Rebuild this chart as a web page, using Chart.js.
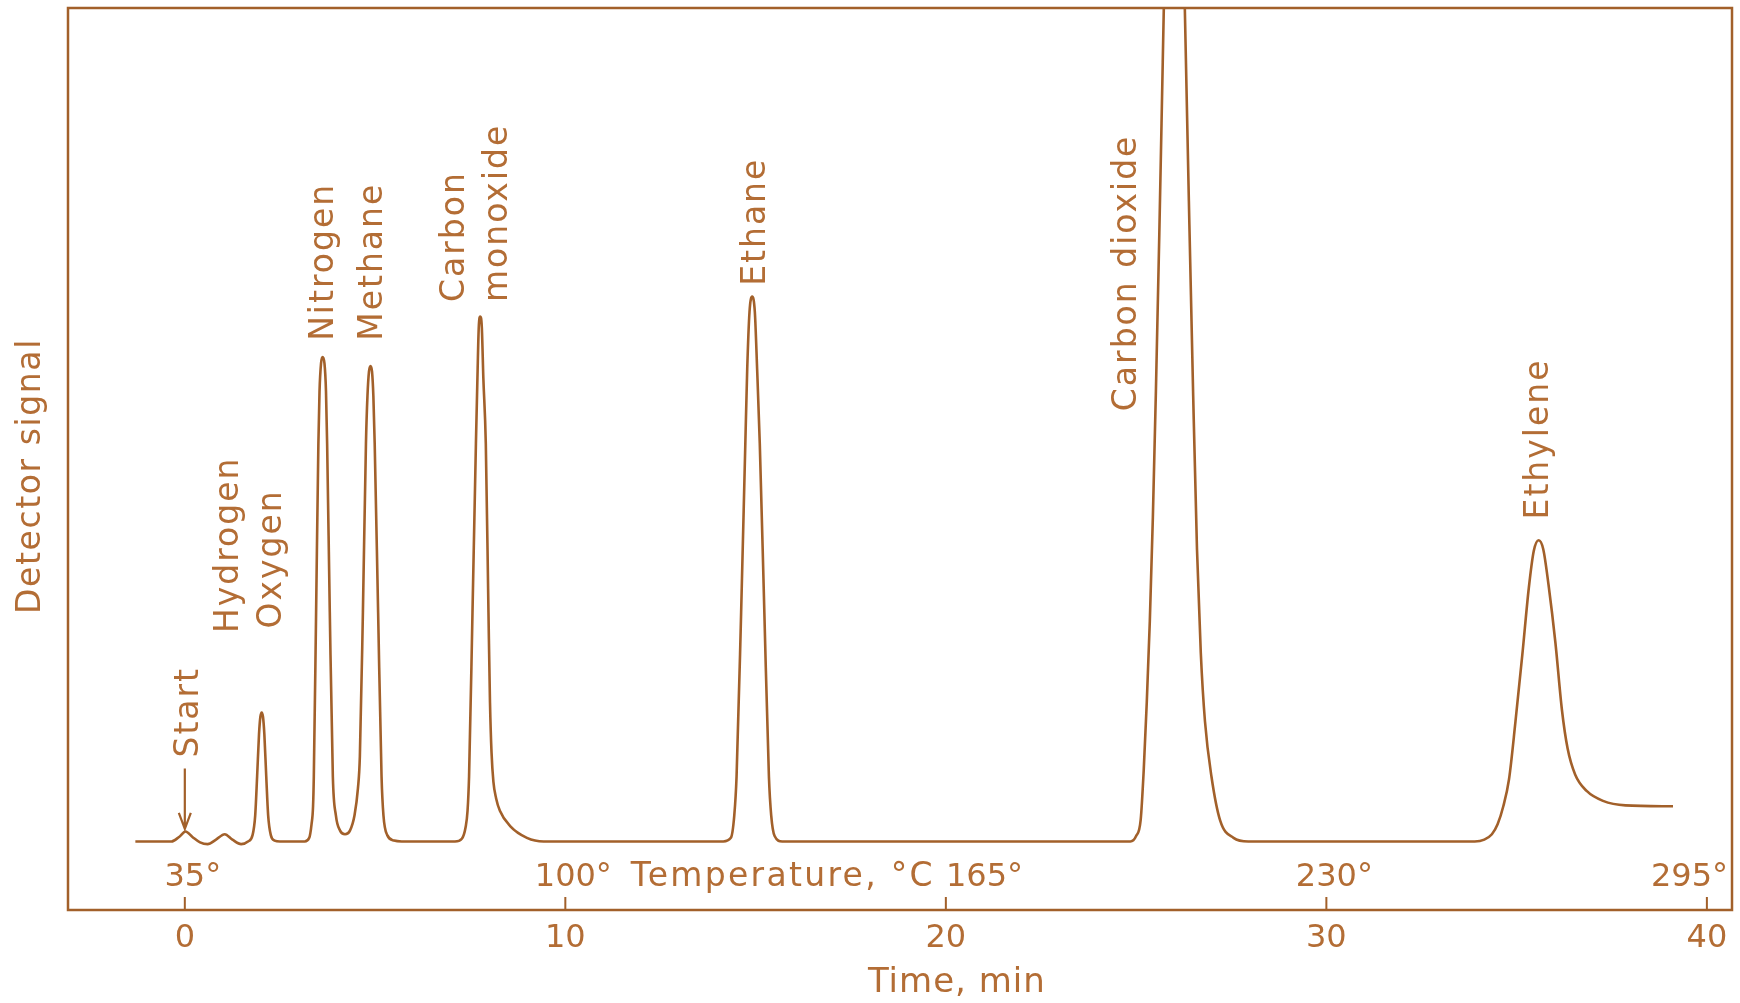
<!DOCTYPE html>
<html>
<head>
<meta charset="utf-8">
<title>Gas chromatogram</title>
<script src="https://cdn.jsdelivr.net/npm/chart.js@4.4.1/dist/chart.umd.min.js"></script>
<style>
  html, body { margin: 0; padding: 0; background: #fff; }
  canvas { display: block; }
</style>
</head>
<body>
<canvas id="chromatogram" width="1740" height="1003"></canvas>
<script>
// recorder trace (time in min, signal in % of frame height)
const timeMin = [
  -1.30, -0.70, -0.35, -0.15, 0.02, 0.20, 0.40, 0.60, 0.82, 1.05, 1.25, 1.48, 1.66,
  1.78, 1.85, 1.90, 1.95, 1.985, 2.02, 2.055, 2.09, 2.14, 2.19, 2.26, 2.36, 2.50, 3.15,
  3.27, 3.33, 3.37, 3.39, 3.45, 3.51, 3.54, 3.58, 3.62, 3.67, 3.71, 3.74, 3.81, 3.89, 3.97, 4.08,
  4.21, 4.34, 4.46, 4.55, 4.60, 4.68, 4.76, 4.80, 4.84, 4.88, 4.92, 4.955, 4.99, 5.08, 5.17, 5.22, 5.32, 5.50, 5.70, 7.10, 7.28, 7.38,
  7.43, 7.47, 7.56, 7.65, 7.69, 7.725, 7.765, 7.805, 7.845, 7.91, 7.98, 8.02, 8.06, 8.11, 8.18, 8.28, 8.55, 8.99, 9.43,
  14.15, 14.35, 14.44, 14.50, 14.62, 14.73, 14.78, 14.84, 14.91, 14.98, 15.04, 15.11, 15.23, 15.35, 15.41, 15.50, 15.70, 24.85,
  25.00, 25.12, 25.20, 25.28, 25.36, 25.44, 25.52, 25.61, 25.70, 25.80, 26.00, 26.20, 26.28, 26.40, 26.50, 26.60, 26.70, 26.81, 26.98, 27.21, 27.56, 27.95,
  33.90, 34.15, 34.35, 34.50, 34.65, 34.80, 34.97, 35.15, 35.32, 35.45, 35.58, 35.70, 35.84, 36.02, 36.19, 36.34, 36.54, 36.84, 37.27, 37.86, 39.11
];
const signal = [
  7.6, 7.6, 7.6, 8.1, 8.7, 8.1, 7.5, 7.3, 7.8, 8.4, 7.8, 7.3, 7.6,
  8.3, 10.5, 14.8, 19.5, 21.4, 21.9, 21.4, 19.5, 14.8, 10.5, 8.3, 7.7, 7.6, 7.6,
  8.0, 9.5, 11.5, 14.8, 33.0, 51.7, 57.5, 60.6, 61.3, 60.6, 57.5, 51.7, 33.0, 14.8, 10.5, 8.8,
  8.4, 8.8, 10.5, 13.5, 17.0, 33.0, 51.7, 57.0, 59.7, 60.3, 59.7, 57.0, 51.7, 33.0, 14.8, 10.5, 8.3, 7.7, 7.6, 7.6, 7.9, 9.2,
  11.0, 14.8, 33.0, 51.7, 59.0, 64.6, 65.8, 64.6, 59.0, 51.7, 33.0, 23.0, 17.5, 14.2, 12.4, 11.0, 9.3, 8.0, 7.6,
  7.6, 8.0, 10.5, 14.8, 33.0, 51.7, 60.0, 66.3, 68.0, 66.3, 60.0, 51.7, 33.0, 14.8, 10.5, 8.2, 7.6, 7.6,
  8.2, 10.0, 15.5, 23.0, 32.0, 43.5, 57.5, 75.0, 94.0, 115.0, 150.0, 118.0, 100.0, 76.0, 57.0, 40.0, 28.5, 20.9, 14.8, 9.9, 8.0, 7.6,
  7.6, 7.8, 8.4, 9.5, 11.5, 14.5, 20.9, 28.3, 35.7, 39.8, 41.0, 40.0, 36.0, 29.6, 22.2, 17.9, 15.0, 13.2, 12.1, 11.6, 11.5
];

const timeTicks = [0, 10, 20, 30, 40];
const tempLabels = ['35°', '100°', '165°', '230°', '295°'];

// peak names, written upward from the given (time, signal) point
const peakNames = ['Start', 'Hydrogen', 'Oxygen', 'Nitrogen', 'Methane', 'Carbon', 'monoxide', 'Ethane', 'Carbon dioxide', 'Ethylene'];
const peakTimes = [0.03, 1.10, 2.23, 3.60, 4.89, 7.02, 8.15, 14.93, 24.68, 35.53];
const peakLevels = [16.9, 30.7, 31.2, 63.1, 63.1, 67.4, 67.4, 69.2, 55.3, 43.3];

const INK = '#a2602a';
const TEXT = '#b36d35';
const FONT = '"DejaVu Sans", sans-serif';

Chart.defaults.font.family = FONT;

function upText(ctx, text, px, py, align) {
  ctx.save();
  ctx.translate(px, py);
  ctx.rotate(-Math.PI / 2);
  ctx.textAlign = align;
  ctx.textBaseline = 'middle';
  ctx.fillText(text, 0, 0);
  ctx.restore();
}

const decor = {
  id: 'decor',
  afterDraw(chart) {
    const { ctx, chartArea: a } = chart;
    const x = chart.scales.x, y = chart.scales.y;
    ctx.save();

    // frame round the plot
    ctx.strokeStyle = INK;
    ctx.lineWidth = 2.5;
    ctx.strokeRect(a.left, a.top, a.right - a.left, a.bottom - a.top);

    // tick marks point inward
    ctx.beginPath();
    timeTicks.forEach(t => {
      const px = x.getPixelForValue(t);
      ctx.moveTo(px, a.bottom);
      ctx.lineTo(px, a.bottom - 13);
    });
    ctx.lineWidth = 2;
    ctx.stroke();

    ctx.fillStyle = TEXT;

    // axis titles
    ctx.font = '34px ' + FONT;
    ctx.letterSpacing = '1px';
    ctx.textAlign = 'center';
    ctx.textBaseline = 'middle';
    ctx.fillText('Time, min', x.getPixelForValue(20) + 11, 983);
    ctx.font = '33px ' + FONT;
    ctx.letterSpacing = '1.6px';
    upText(ctx, 'Detector signal', a.left - 37, (a.top + a.bottom) / 2 + 17, 'center');

    // oven temperature along the time axis
    ctx.font = '32px ' + FONT;
    ctx.letterSpacing = '0px';
    ctx.textAlign = 'center';
    ctx.textBaseline = 'alphabetic';
    const ty = a.bottom - 24;
    let midEnd = 0;
    tempLabels.forEach((lab, i) => {
      const w = ctx.measureText(lab).width;
      let px = x.getPixelForValue(timeTicks[i]) + 8;
      if (i === 2) px = midEnd + w / 2;
      if (px + w / 2 > a.right - 4) px = a.right - 4 - w / 2;
      ctx.fillText(lab, px, ty);
      if (i === 1) {
        // "Temperature, °C" runs on from the 100° label
        ctx.save();
        ctx.font = '33px ' + FONT;
        ctx.letterSpacing = '2.3px';
        ctx.textAlign = 'left';
        const sx = px + w / 2 + 19;
        ctx.fillText('Temperature, °C', sx, ty);
        midEnd = sx + ctx.measureText('Temperature, °C').width + 11;
        ctx.restore();
      }
    });

    // peak labels
    ctx.font = '33px ' + FONT;
    ctx.letterSpacing = '2px';
    peakNames.forEach((name, i) => {
      upText(ctx, name, x.getPixelForValue(peakTimes[i]) + 3, y.getPixelForValue(peakLevels[i]), 'left');
    });

    // start arrow
    const sx = x.getPixelForValue(0);
    const y1 = y.getPixelForValue(15.7), y2 = y.getPixelForValue(9.0);
    ctx.beginPath();
    ctx.moveTo(sx, y1);
    ctx.lineTo(sx, y2);
    ctx.moveTo(sx - 6, y2 - 16);
    ctx.lineTo(sx, y2);
    ctx.lineTo(sx + 6, y2 - 16);
    ctx.strokeStyle = INK;
    ctx.lineWidth = 2.2;
    ctx.stroke();

    ctx.restore();
  }
};

new Chart(document.getElementById('chromatogram'), {
  type: 'line',
  data: {
    datasets: [{
      data: timeMin.map((t, i) => ({ x: t, y: signal[i] })),
      borderColor: INK,
      borderWidth: 2.6,
      pointRadius: 0,
      fill: false,
      cubicInterpolationMode: 'monotone'
    }]
  },
  options: {
    responsive: false,
    animation: false,
    layout: { padding: { top: 8, right: 8, left: 0, bottom: 0 } },
    plugins: { legend: { display: false }, tooltip: { enabled: false } },
    scales: {
      x: {
        type: 'linear',
        min: -3.07,
        max: 40.66,
        afterBuildTicks: s => { s.ticks = timeTicks.map(v => ({ value: v })); },
        afterFit: s => { s.height = 93; },
        grid: { display: false, drawTicks: false },
        border: { display: false },
        ticks: { color: TEXT, font: { size: 32 }, padding: 9, maxRotation: 0 }
      },
      y: {
        min: 0,
        max: 100,
        afterFit: s => { s.width = 68; },
        grid: { display: false, drawTicks: false },
        border: { display: false },
        ticks: { display: false }
      }
    }
  },
  plugins: [decor]
});
</script>
</body>
</html>
